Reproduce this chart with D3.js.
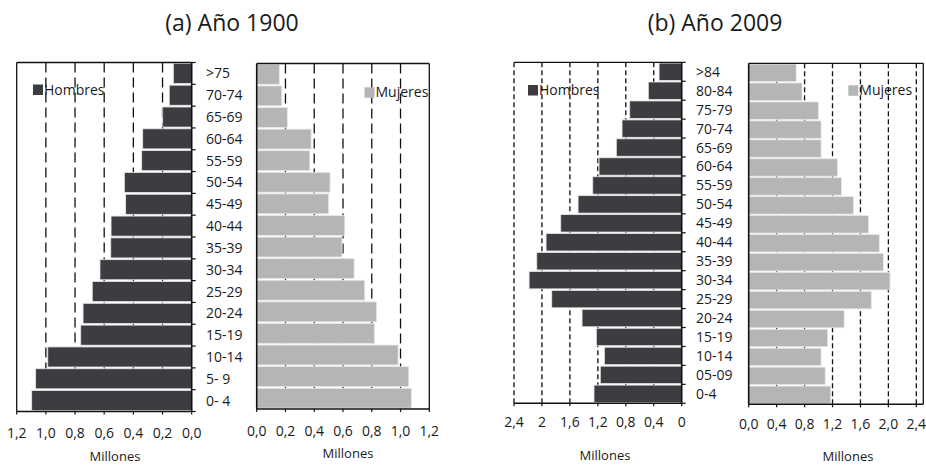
<!DOCTYPE html>
<html><head><meta charset="utf-8">
<script src="https://cdn.jsdelivr.net/npm/d3@7"></script>
<style>body{margin:0;background:#fff}svg{display:block;font-family:"Open Sans",sans-serif}</style>
</head><body><svg id="c" width="926" height="467"></svg>
<script>
// ---- data ----
const cats1900 = [">75","70-74","65-69","60-64","55-59","50-54","45-49","40-44","35-39","30-34","25-29","20-24","15-19","10-14","5- 9","0- 4"];
const men1900   = [0.126,0.154,0.199,0.336,0.343,0.462,0.453,0.553,0.555,0.629,0.682,0.745,0.761,0.987,1.07,1.097];
const women1900 = [0.157,0.174,0.213,0.378,0.369,0.510,0.500,0.612,0.593,0.677,0.751,0.834,0.818,0.983,1.057,1.075];
const cats2009 = [">84","80-84","75-79","70-74","65-69","60-64","55-59","50-54","45-49","40-44","35-39","30-34","25-29","20-24","15-19","10-14","05-09","0-4"];
const men2009   = [0.324,0.478,0.744,0.854,0.936,1.183,1.273,1.483,1.731,1.941,2.074,2.184,1.860,1.426,1.222,1.107,1.165,1.255];
const women2009 = [0.680,0.763,0.997,1.036,1.036,1.270,1.328,1.500,1.717,1.870,1.928,2.023,1.755,1.367,1.131,1.036,1.094,1.174];
const ticksA = [0,0.2,0.4,0.6,0.8,1.0,1.2];
const tickLabelsA = ["0,0","0,2","0,4","0,6","0,8","1,0","1,2"];
const ticksB = [0,0.4,0.8,1.2,1.6,2.0,2.4];
const tickLabelsBMen = ["0","0,4","0,8","1,2","1,6","2","2,4"];
const tickLabelsBWomen = ["0,0","0,4","0,8","1,2","1,6","2,0","2,4"];
const titles = ["(a) Año 1900","(b) Año 2009"];
const seriesNames = ["Hombres","Mujeres"];
const axisTitle = "Millones";

const MEN = "#3b3d40", WOMEN = "#b3b5b7";
const svg = d3.select("#c");

function panel(o){
  const g = svg.append("g");
  const x = d3.scaleLinear().domain(o.domain).range(o.xr);
  const y = d3.scaleBand().domain(o.cats).range(o.yr).paddingInner(0.08).paddingOuter(0.04);
  const y0 = o.yr[0], y1 = o.yr[1];
  // gridlines
  o.ticks.forEach((t,i)=>{
    if (t===0) return;
    if (Math.abs(t-o.domain[1])<1e-9 && o.solidEdge) return;
    g.append("line").attr("x1",x(t)).attr("x2",x(t)).attr("y1",y0).attr("y2",y1)
      .attr("stroke","#111").attr("stroke-width",1.3).attr("stroke-dasharray",o.dash);
  });
  // bars
  g.selectAll("rect.bar").data(o.values).join("rect").attr("class","bar")
    .attr("x",d=>Math.min(x(0),x(d))).attr("width",d=>Math.abs(x(d)-x(0)))
    .attr("y",(d,i)=>y(o.cats[i])).attr("height",y.bandwidth())
    .attr("fill",o.color).attr("stroke","#e6e6e6").attr("stroke-width",0.8);
  // frame: top line and outer edge
  g.append("line").attr("x1",o.xr[0]).attr("x2",o.frameX).attr("y1",y0).attr("y2",y0).attr("stroke","#111").attr("stroke-width",1.3);
  if (o.solidEdge) g.append("line").attr("x1",o.frameX).attr("x2",o.frameX).attr("y1",y0).attr("y2",y1).attr("stroke","#111").attr("stroke-width",1.3);
  // zero axis
  g.append("line").attr("x1",x(0)).attr("x2",x(0)).attr("y1",y0).attr("y2",y1).attr("stroke","#111").attr("stroke-width",1.6);
  // category ticks on zero axis
  const bounds = d3.range(o.cats.length+1).map(i=>y0+(y1-y0)*i/o.cats.length);
  bounds.forEach(b=>g.append("line").attr("x1",x(0)).attr("x2",x(0)+o.catTick).attr("y1",b).attr("y2",b).attr("stroke","#111").attr("stroke-width",1.2));
  // bottom axis
  g.append("line").attr("x1",x(0)).attr("x2",o.frameX).attr("y1",y1).attr("y2",y1).attr("stroke","#111").attr("stroke-width",1.6);
  o.ticks.forEach((t,i)=>{
    g.append("line").attr("x1",x(t)).attr("x2",x(t)).attr("y1",y1).attr("y2",y1+3).attr("stroke","#111").attr("stroke-width",1.2);
    g.append("text").attr("x",x(t)).attr("y",o.tickY).attr("text-anchor","middle")
      .attr("font-size",14).attr("fill","#1a1a1a").text(o.tickLabels[i]);
  });
  g.append("text").attr("x",o.mlX).attr("y",o.mlY).attr("text-anchor","middle").attr("font-size",13).attr("fill","#1a1a1a").text(axisTitle);
  // legend
  g.append("rect").attr("x",o.leg[0]).attr("y",o.leg[1]).attr("width",10).attr("height",10.5).attr("fill",o.color);
  g.append("text").attr("x",o.leg[0]+11).attr("y",o.leg[1]+10).attr("font-size",14).attr("fill","#1a1a1a").text(o.name);
  return y;
}

// (a) 1900
const ya = panel({cats:cats1900, values:men1900, domain:[0,1.2], xr:[191.7,16.7], yr:[62.5,411.5], frameX:16.7, solidEdge:true,
  ticks:ticksA, tickLabels:tickLabelsA, dash:"10,5", color:MEN, catTick:4, tickY:438, mlX:115, mlY:461, leg:[33,84.5], name:seriesNames[0]});
panel({cats:cats1900, values:women1900, domain:[0,1.2], xr:[256.7,429.3], yr:[63.5,409], frameX:429.3, solidEdge:true,
  ticks:ticksA, tickLabels:tickLabelsA, dash:"10,5", color:WOMEN, catTick:0, tickY:436, mlX:348, mlY:458, leg:[364.5,87.3], name:seriesNames[1]});
cats1900.forEach(c=>svg.append("text").attr("x",206).attr("y",ya(c)+ya.bandwidth()/2+5).attr("font-size",14).attr("fill","#1a1a1a").text(c));

// (b) 2009
const yb = panel({cats:cats2009, values:men2009, domain:[0,2.4], xr:[681.7,514], yr:[62.3,403.3], frameX:514, solidEdge:false,
  ticks:ticksB, tickLabels:tickLabelsBMen, dash:"5,3", color:MEN, catTick:4, tickY:427, mlX:605, mlY:460, leg:[528,85], name:seriesNames[0]});
panel({cats:cats2009, values:women2009, domain:[0,2.5], xr:[748.7,923.3], yr:[63.3,404.3], frameX:923.3, solidEdge:true,
  ticks:ticksB, tickLabels:tickLabelsBWomen, dash:"5,3", color:WOMEN, catTick:0, tickY:429, mlX:848, mlY:461, leg:[848.3,85.3], name:seriesNames[1]});
cats2009.forEach(c=>svg.append("text").attr("x",696).attr("y",yb(c)+yb.bandwidth()/2+5).attr("font-size",14).attr("fill","#1a1a1a").text(c));

// titles
svg.append("text").attr("x",232).attr("y",31).attr("text-anchor","middle").attr("font-size",23).attr("fill","#1a1a1a").text(titles[0]);
svg.append("text").attr("x",715).attr("y",31).attr("text-anchor","middle").attr("font-size",23).attr("fill","#1a1a1a").text(titles[1]);
</script></body></html>
